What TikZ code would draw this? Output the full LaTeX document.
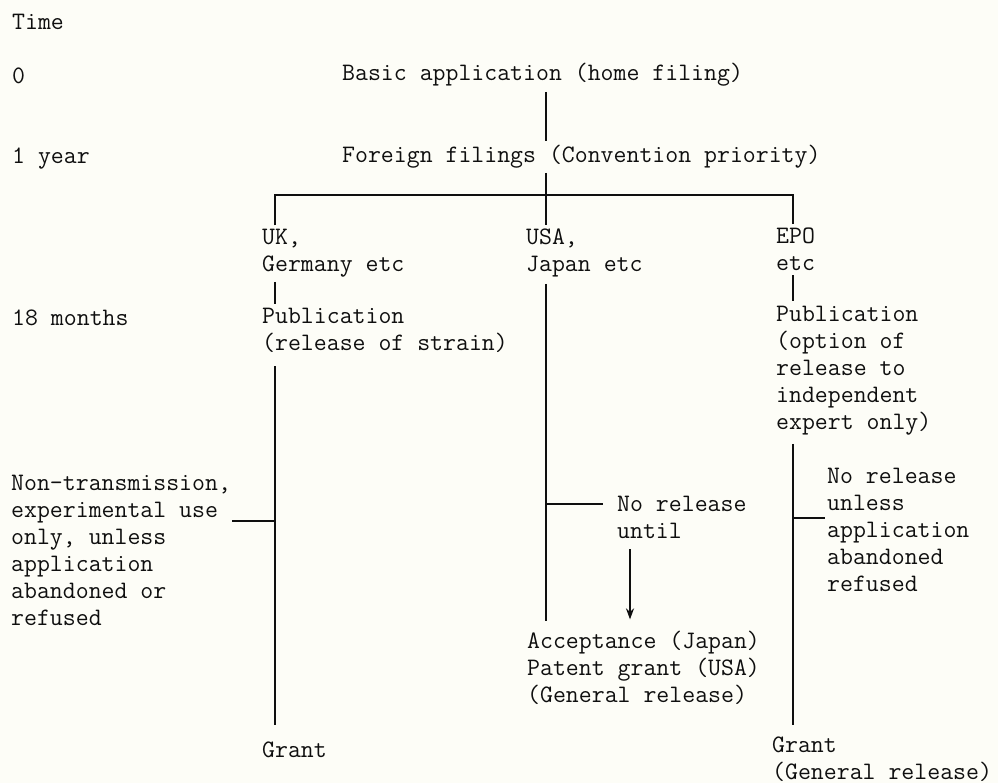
\documentclass[tikz,border=0pt]{standalone}
\usetikzlibrary{arrows.meta}
\definecolor{ink}{RGB}{15,15,15}
\definecolor{paper}{RGB}{253,253,247}
\tikzset{
  lbl/.style={anchor=base west, inner xsep=0pt, inner ysep=4pt, align=left,
    font=\ttfamily\fontsize{25.1}{27}\selectfont, text=ink},
  ln/.style={line width=2.3pt, draw=ink},
}
\begin{document}
\begin{tikzpicture}[x=1pt,y=-1pt]
\useasboundingbox (0,0) rectangle (998,783);
\fill[paper] (0,0) rectangle (998,783);

% time axis labels
\node[lbl] (time) at (12,30) {Time};
\node[lbl] (t0) at (12,84) {0};
\node[lbl] (t1) at (12,164) {1 year};
\node[lbl] (t18) at (12,326) {18 months};

% main nodes (base anchor = baseline of last line)
\node[lbl] (basic) at (342,81) {Basic application (home filing)};
\node[lbl] (foreign) at (342,163) {Foreign filings (Convention priority)};
\node[lbl] (uk) at (262,272) {UK,\\Germany etc};
\node[lbl] (usa) at (526,272) {USA,\\Japan etc};
\node[lbl] (epo) at (776,271) {EPO\\etc};
\node[lbl] (ukpub) at (262,351) {Publication\\(release of strain)};
\node[lbl] (epopub) at (776,429) {Publication\\(option of\\release to\\independent\\expert only)};
\node[lbl] (nt) at (11,625) {Non-transmission,\\experimental use\\only, unless\\application\\abandoned or\\refused};
\node[lbl] (nr1) at (617,538) {No release\\until};
\node[lbl] (nr2) at (827,591) {No release\\unless\\application\\abandoned\\refused};
\node[lbl] (acc) at (527,702) {Acceptance (Japan)\\Patent grant (USA)\\(General release)};
\node[lbl] (grantuk) at (262,757) {Grant};
\node[lbl] (grantepo) at (772,779) {Grant\\(General release)};

% helper coordinates
\coordinate (tx) at (546,0);
\coordinate (ukx) at (275,0);
\coordinate (epx) at (793,0);
\coordinate (bar) at (0,195);
\coordinate (ax) at (630,0);

% connectors
\draw[ln, shorten <=1pt] (basic.south -| tx) -- (foreign.north -| tx);
\draw[ln] (foreign.south -| tx) -- (tx |- bar);
\draw[ln] (uk.north -| ukx) -- (ukx |- bar) -- (epx |- bar) -- (epo.north -| epx);
\draw[ln] (tx |- bar) -- (usa.north -| tx);
\draw[ln] (uk.south -| ukx) -- (ukpub.north -| ukx);
\draw[ln] (epo.south -| epx) -- (epopub.north -| epx);
\draw[ln, shorten <=9pt, shorten >=12pt] (ukpub.south -| ukx) -- (grantuk.north -| ukx);
\draw[ln, shorten <=2pt, shorten >=5pt] (usa.south -| tx) -- (acc.north -| tx);
\draw[ln, shorten <=5pt, shorten >=7pt] (epopub.south -| epx) -- (grantepo.north -| epx);

% side branches
\draw[ln] ([xshift=221pt,yshift=104pt]nt.base west) -- ([yshift=104pt]nt.base west -| ukx);
\draw[ln] ([yshift=34pt]nr1.base west -| tx) -- ([xshift=-14pt,yshift=34pt]nr1.base west);
\draw[ln] ([yshift=73pt]nr2.base west -| epx) -- ([xshift=-2pt,yshift=73pt]nr2.base west);
\draw[ln, line width=2pt, -{Stealth[length=11pt,width=8pt]}, shorten <=7pt, shorten >=7pt] (nr1.south -| ax) -- (acc.north -| ax);
\end{tikzpicture}
\end{document}
